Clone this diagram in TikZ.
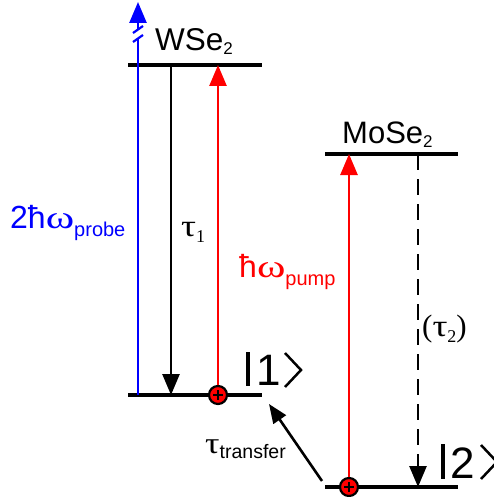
\documentclass[tikz,border=0pt]{standalone}
\usepackage{fontspec}
\setmainfont{Liberation Sans}
\newfontfamily\serifgr{Liberation Serif}
\usetikzlibrary{arrows.meta}
\newcommand{\wideom}{{\serifgr\scalebox{1.35}[1]{ω}}}
\newcommand{\widetau}{{\serifgr\scalebox{1.2}[1]{τ}}}
\begin{document}
\begin{tikzpicture}[x=1pt,y=-1pt,
  level/.style={line width=3.2pt},
  trans/.style={line width=2.6pt,-{Triangle[length=21pt,width=17pt]}},
  carrier/.style={circle,draw=black,line width=2.2pt,fill=red,minimum size=18pt,inner sep=0pt},
  lbl/.style={inner sep=0pt,anchor=base west},
  ket/.style={line width=3.2pt}]
\useasboundingbox (0,0) rectangle (493,497);
% levels
\coordinate (w1) at (128,65); \coordinate (w2) at (262,65);
\coordinate (a1) at (128,395); \coordinate (a2) at (262,395);
\coordinate (m1) at (325,154); \coordinate (m2) at (458,154);
\coordinate (b1) at (325,487); \coordinate (b2) at (458,487);
\draw[level] (w1) -- (w2);
\draw[level] (a1) -- (a2);
\draw[level] (m1) -- (m2);
\draw[level] (b1) -- (b2);
% probe (blue) with break
\coordinate (p0) at (138,395);
\coordinate (pb1) at (138,39);
\coordinate (pb2) at (138,30);
\coordinate (pt) at (138,2);
\draw[line width=2.6pt,blue] (p0) -- (pb1);
\draw[trans,blue] (pb2) -- (pt);
\draw[line width=2.2pt,blue] (133,42) -- (143,35);
\draw[line width=2.2pt,blue] (133,33) -- (143,26);
% tau1
\coordinate (t1s) at (171,65); \coordinate (t1e) at (171,395);
\draw[trans] (t1s) -- (t1e);
% carriers
\node[carrier] (c1) at (218,395) {};
\node[carrier] (c2) at (349,487) {};
\foreach \c in {c1,c2}{
  \draw[line width=1.8pt] ([xshift=-5pt]\c.center) -- ([xshift=5pt]\c.center);
  \draw[line width=1.8pt] ([yshift=-5pt]\c.center) -- ([yshift=5pt]\c.center);
}
% pump WSe2
\coordinate (r1e) at (218,65);
\draw[trans,red] (c1) -- (r1e);
% pump MoSe2
\coordinate (r2e) at (349,154);
\draw[trans,red] (c2) -- (r2e);
% tau2 dashed
\coordinate (t2s) at (418,154); \coordinate (t2e) at (418,487);
\draw[trans,dash pattern=on 16pt off 9pt] (t2s) -- (t2e);
% transfer
\coordinate (trs) at (322,481); \coordinate (tre) at (269,404);
\draw[line width=2.6pt,-{Triangle[length=19pt,width=15pt]}] (trs) -- (tre);
% labels
\node[lbl] (lw) at (155,51) {\fontsize{31.5}{31.5}\selectfont WSe\raisebox{-4pt}{\fontsize{17}{17}\selectfont 2}};
\node[lbl] (lm) at (342,144) {\fontsize{31}{31}\selectfont MoSe\raisebox{-4pt}{\fontsize{17}{17}\selectfont 2}};
\node[lbl,text=blue] (lp) at (10,228) {\fontsize{32}{32}\selectfont 2ħ\wideom\raisebox{-8pt}{\fontsize{20}{20}\selectfont probe}};
\node[lbl,text=red] (lpu) at (239,277) {\fontsize{32}{32}\selectfont ħ\wideom\raisebox{-8pt}{\fontsize{20}{20}\selectfont pump}};
\node[lbl] (lt1) at (181,236) {\serifgr\fontsize{31}{31}\selectfont \widetau\raisebox{-6pt}{\fontsize{18}{18}\selectfont 1}};
\node[lbl] (lt2) at (422,336) {\serifgr\fontsize{31}{31}\selectfont (\widetau\raisebox{-6pt}{\fontsize{18}{18}\selectfont 2})};
\node[lbl] (ltr) at (205,453) {{\fontsize{30}{30}\selectfont\widetau}\raisebox{-5pt}{\fontsize{19.5}{19.5}\selectfont transfer}};
% kets
\node[lbl] (k1) at (256,385) {\fontsize{44}{44}\selectfont 1};
\draw[ket] (248,352) -- (248,386);
\draw[line width=2.5pt,line join=miter] (285,353) -- (301,370) -- (285,387);
\node[lbl] (k2) at (450,478) {\fontsize{44}{44}\selectfont 2};
\draw[ket] (443,444) -- (443,479);
\draw[line width=2.5pt,line join=miter] (481,445) -- (497,462) -- (481,479);
\end{tikzpicture}
\end{document}
